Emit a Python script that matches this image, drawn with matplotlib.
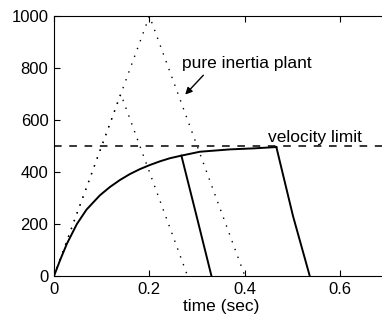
import numpy as np
import matplotlib
matplotlib.use("Agg")
import matplotlib.pyplot as plt

# pure inertia plant (bang-bang) velocity profiles
t_big = [0, 0.2, 0.4]
v_big = [0, 1000, 0]
t_small = [0, 0.14, 0.28]
v_small = [0, 700, 0]

# velocity-limited response
t_rise = [0, 0.013, 0.027, 0.048, 0.068, 0.096, 0.117, 0.138, 0.159, 0.18, 0.201,
          0.222, 0.243, 0.267, 0.306, 0.369, 0.42, 0.466]
v_rise = [0, 62, 124, 200, 255, 310, 342, 369, 392, 411, 427,
          441, 453, 463, 478, 487, 491, 496]
t_drop1 = [0.267, 0.299, 0.330]
v_drop1 = [463, 229, 0]
t_drop2 = [0.466, 0.501, 0.536]
v_drop2 = [496, 230, 0]

v_limit = 500

plt.rcParams['font.family'] = ['Liberation Sans', 'DejaVu Sans']

fig = plt.figure(figsize=(3.82, 3.26), dpi=100)
ax = fig.add_axes([54/382, 50/326, 334/382, 260/326])

ax.plot(t_big, v_big, color="black", linestyle=(0, (1, 5)), linewidth=1)
ax.plot(t_small, v_small, color="black", linestyle=(0, (1, 5)), linewidth=1)
ax.plot(t_rise, v_rise, color="black", linewidth=1.4)
ax.plot(t_drop1, v_drop1, color="black", linewidth=1.4)
ax.plot(t_drop2, v_drop2, color="black", linewidth=1.4)
ax.axhline(v_limit, color="black", linestyle=(0, (5, 5)), linewidth=1.1)

ax.text(0.268, 800, "pure inertia plant", fontsize=12.5)
ax.annotate("", xy=(0.271, 690), xytext=(0.317, 780),
            arrowprops=dict(arrowstyle="-|>", color="black", lw=1, mutation_scale=10))
ax.text(0.448, 517, "velocity limit", fontsize=12.5)

ax.set_xlim(0, 0.7)
ax.set_ylim(0, 1000)
ax.set_xticks([0, 0.2, 0.4, 0.6])
ax.set_xticklabels(["0", "0.2", "0.4", "0.6"])
ax.set_yticks([0, 200, 400, 600, 800, 1000])
ax.tick_params(direction="in", length=4, labelsize=12, top=True, pad=4)
ax.set_xlabel("time (sec)", fontsize=12.5, labelpad=2)

fig.savefig("out.png", dpi=100)
